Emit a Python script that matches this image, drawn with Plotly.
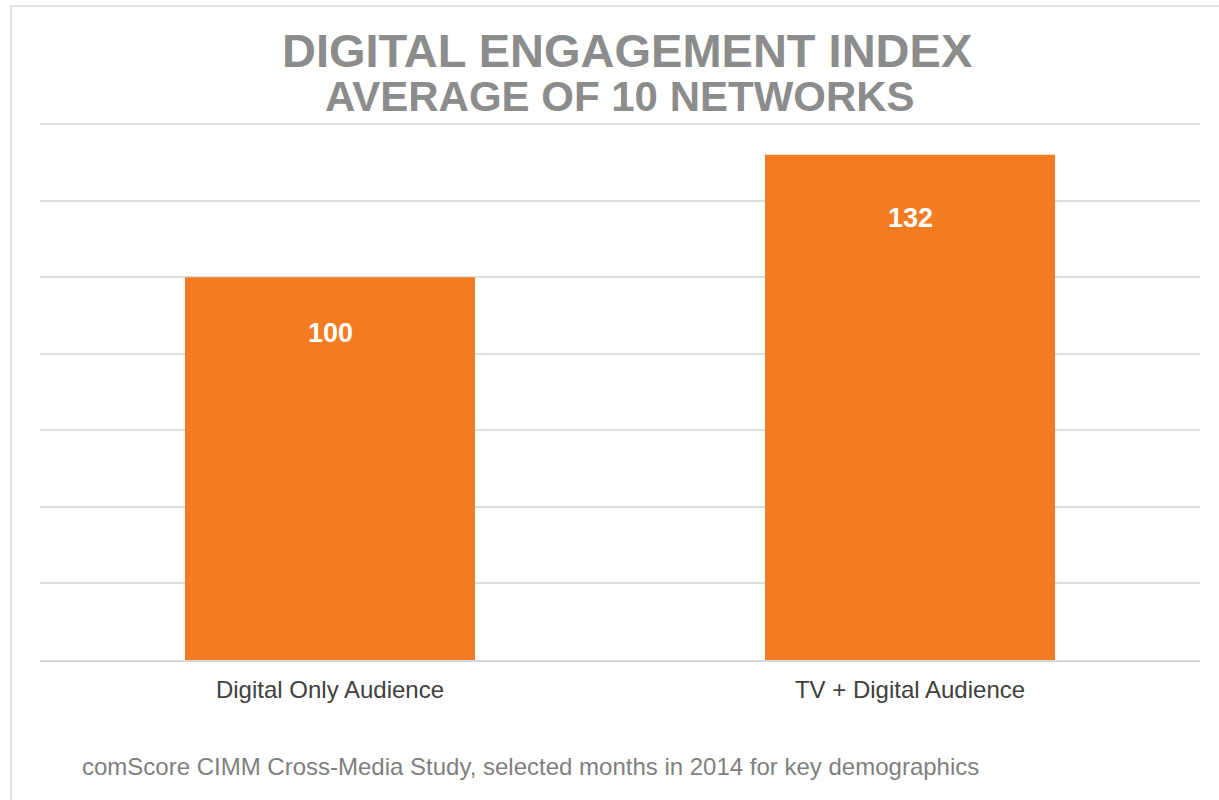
import plotly.graph_objects as go

# Chart data
categories = ["Digital Only Audience", "TV + Digital Audience"]
index_values = [100, 132]
value_labels = ["100", "132"]

title_line1 = "DIGITAL ENGAGEMENT INDEX"
title_line2 = "AVERAGE OF 10 NETWORKS"
source_note = "comScore CIMM Cross-Media Study, selected months in 2014 for key demographics"

W, H = 1219, 800
BAR_COLOR = "#F37C22"
GRID_COLOR = "#DEDEDE"
FONT = "Liberation Sans, Arial, sans-serif"

# label offsets (px) below each bar's top
label_offsets = [-56, -63]

# vertical axis: 0 sits at y=660px, 140 at y=124px; range padded a little
# above 140 so that the top gridline is still drawn
Y_MAX = 141
px_per_unit = (660 - 124) / 140
plot_top_px = 660 - Y_MAX * px_per_unit

fig = go.Figure()
fig.add_trace(go.Bar(
    x=categories,
    y=index_values,
    marker=dict(color=BAR_COLOR, line=dict(width=0)),
    hoverinfo="skip",
))

# value labels inside each bar, a little below its top
for cat, val, lab, off in zip(categories, index_values, value_labels, label_offsets):
    fig.add_annotation(
        x=cat, y=val, xref="x", yref="y",
        text=f"<b>{lab}</b>", showarrow=False,
        yanchor="middle", yshift=off,
        font=dict(family=FONT, size=27, color="white"),
    )

# two-line title
fig.add_annotation(x=627 / W, y=1 - 51 / H, xref="paper", yref="paper",
                   text=f"<b>{title_line1}</b>", showarrow=False,
                   xanchor="center", yanchor="middle",
                   font=dict(family=FONT, size=47, color="#8C8C8C"))
fig.add_annotation(x=620 / W, y=1 - 97 / H, xref="paper", yref="paper",
                   text=f"<b>{title_line2}</b>", showarrow=False,
                   xanchor="center", yanchor="middle",
                   font=dict(family=FONT, size=42, color="#8C8C8C"))

# source note
fig.add_annotation(x=80 / W, y=1 - 766 / H, xref="paper", yref="paper",
                   text=source_note, showarrow=False,
                   xanchor="left", yanchor="middle",
                   font=dict(family=FONT, size=24, color="#7F7F7F"))

# thin frame on the left and top edges
fig.add_shape(type="path", xref="paper", yref="paper",
              path=f"M {11 / W},0 L {11 / W},{1 - 6 / H} L 1,{1 - 6 / H}",
              line=dict(color="#E2E2E2", width=2))

fig.update_layout(
    width=W, height=H,
    margin=dict(l=0, r=0, t=0, b=0),
    paper_bgcolor="white", plot_bgcolor="white",
    bargap=0.5,
    showlegend=False,
    xaxis=dict(
        domain=[40 / W, 1200 / W],
        showgrid=False, showline=True, linecolor="#D9D9D9", linewidth=2,
        ticks="", tickfont=dict(family=FONT, size=24, color="#404040"),
        ticklabelstandoff=7,
    ),
    yaxis=dict(
        domain=[1 - 660 / H, 1 - plot_top_px / H],
        range=[0, Y_MAX], dtick=20,
        showgrid=True, gridcolor=GRID_COLOR, gridwidth=2,
        zeroline=False, showticklabels=False, ticks="",
    ),
)

fig.write_html("out.html")
